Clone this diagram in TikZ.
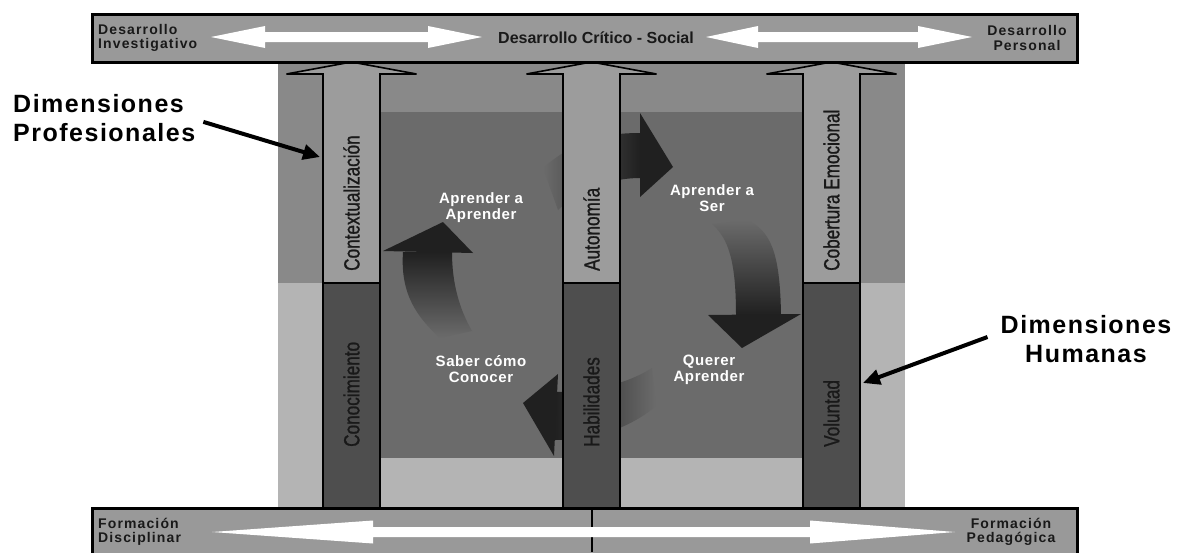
\documentclass[tikz,border=0pt]{standalone}
\usepackage{fontspec}
\setmainfont{Liberation Sans}
\usetikzlibrary{arrows.meta}

\definecolor{barc}{RGB}{153,153,153}
\definecolor{bgup}{RGB}{137,137,137}
\definecolor{bglow}{RGB}{180,180,180}
\definecolor{innerc}{RGB}{107,107,107}
\definecolor{colupc}{RGB}{156,156,156}
\definecolor{coldownc}{RGB}{78,78,78}
\definecolor{arrowc}{RGB}{32,32,32}

\begin{document}
\begin{tikzpicture}[x=1pt, y=-1pt,
  bar/.style={draw=black, line width=3pt, fill=barc},
  colup/.style={draw=black, line width=1.6pt, fill=colupc},
  coldown/.style={draw=black, line width=1.6pt, fill=coldownc},
  coltext/.style={rotate=90, anchor=west, inner sep=0pt, text=black!90,
    font=\fontsize{22}{24}\selectfont\addfontfeature{FakeStretch=0.78,FakeBold=1}},
  bartext/.style={align=center, inner sep=0pt, text=black!90,
    font=\fontsize{14}{14.5}\selectfont\bfseries\addfontfeature{LetterSpace=8}},
  looptext/.style={align=center, inner sep=0pt, text=white,
    font=\fontsize{15}{16}\selectfont\bfseries\addfontfeature{LetterSpace=4}},
  dimtext/.style={inner sep=0pt,
    font=\fontsize{25}{29}\selectfont\bfseries\addfontfeature{LetterSpace=6}},
  dimarrow/.style={line width=4pt, -{Triangle[length=17pt,width=15pt]}}]

  \useasboundingbox (0,0) rectangle (1177,552);

  % panel behind the columns
  \fill[bgup] (278,62) rectangle (905,283);
  \fill[bglow] (278,283) rectangle (905,508);
  \fill[innerc] (351,112) rectangle (832,458);

  % learning cycle
  \shade[left color=innerc, right color=arrowc] (543,168) .. controls (575,140) and (605,133) .. (640,133)
    -- (640,178) .. controls (610,178) and (580,190) .. (558,210) -- cycle;
  \fill[arrowc] (640,113) -- (673,167) -- (640,197) -- cycle;

  \shade[top color=innerc, bottom color=arrowc] (712,224) .. controls (728,238) and (736,260) .. (736,315)
    -- (781,315) .. controls (780,250) and (770,232) .. (748,220) -- cycle;
  \fill[arrowc] (708,315) -- (742,348) -- (801,314) -- cycle;

  \shade[left color=arrowc, right color=innerc] (555,392) .. controls (590,392) and (625,385) .. (652,368)
    -- (656,406) .. controls (630,428) and (595,440) .. (555,440) -- cycle;
  \fill[arrowc] (558,374) -- (523,403) -- (554,456) -- cycle;

  \shade[top color=arrowc, bottom color=innerc] (403,252) .. controls (400,295) and (418,318) .. (440,338)
    -- (472,331) .. controls (460,310) and (452,285) .. (452,252) -- cycle;
  \fill[arrowc] (383,251) -- (443,222) -- (473,253) -- cycle;

  % columns
  \foreach \cx/\up/\down [count=\i] in {351.5/Contextualización/Conocimiento,
      591.5/Autonomía/Habilidades, 831.5/Cobertura Emocional/Voluntad} {
    \draw[colup] (\cx-28.5,283) -- (\cx-28.5,74) -- (\cx-65,74) -- (\cx,62)
      -- (\cx+65,74) -- (\cx+28.5,74) -- (\cx+28.5,283) -- cycle;
    \draw[coldown] (\cx-28.5,283) rectangle (\cx+28.5,508);
    \node[coltext] (up\i) at (\cx,271) {\up};
    \node[coltext] (down\i) at (\cx,447) {\down};
  }

  % bars
  \draw[bar] (92,14) rectangle (1077,62);
  \draw[bar] (92,508) rectangle (1077,562);
  \draw[line width=2pt] (591.5,508) -- (591.5,552);

  \fill[white] (211,37) -- (265,26) -- (265,32) -- (428,32) -- (428,26) -- (482,37)
    -- (428,48) -- (428,42) -- (265,42) -- (265,48) -- cycle;
  \fill[white] (706,37) -- (758,26) -- (758,32) -- (918,32) -- (918,26) -- (972,37)
    -- (918,48) -- (918,42) -- (758,42) -- (758,48) -- cycle;
  \fill[white] (212,532) -- (373,520.5) -- (373,527) -- (810,527) -- (810,520.5) -- (955,532)
    -- (810,543.5) -- (810,537) -- (373,537) -- (373,543.5) -- cycle;

  \node[bartext, align=left, anchor=west] (devinv) at (98,38) {Desarrollo\\Investigativo};
  \node[bartext, font=\fontsize{16}{18}\selectfont\bfseries] (devcrit) at (596,38) {Desarrollo Crítico - Social};
  \node[bartext] (devpers) at (1027,38) {Desarrollo\\Personal};
  \node[bartext, align=left, anchor=west] (fordisc) at (98,532) {Formación\\Disciplinar};
  \node[bartext] (forped) at (1011,532) {Formación\\Pedagógica};

  % cycle labels
  \node[looptext] (aprender) at (481,208) {Aprender a\\Aprender};
  \node[looptext] (ser) at (712,198) {Aprender a\\Ser};
  \node[looptext] (saber) at (481,369) {Saber cómo\\Conocer};
  \node[looptext] (querer) at (709,370) {Querer\\Aprender};

  % dimensions
  \node[dimtext, align=left, anchor=north west] (dprof) at (13,94) {Dimensiones\\Profesionales};
  \node[dimtext, align=center] (dhum) at (1086,339) {Dimensiones\\Humanas};
  \coordinate (ctxpt) at (320,157);
  \coordinate (volpt) at (863,383);
  \draw[dimarrow] ([shift={(8,4)}]dprof.east) -- (ctxpt);
  \draw[dimarrow] ([shift={(-13,-2)}]dhum.west) -- (volpt);

\end{tikzpicture}
\end{document}
